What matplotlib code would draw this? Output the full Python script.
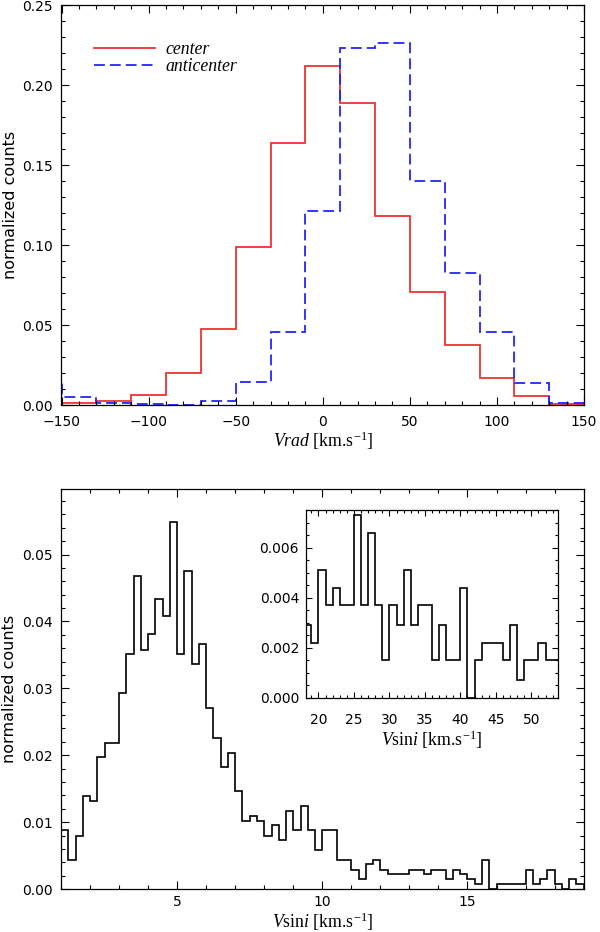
import numpy as np
import matplotlib
matplotlib.use('Agg')
import matplotlib.pyplot as plt
from matplotlib.ticker import MultipleLocator

plt.rcParams['font.family'] = 'DejaVu Sans'
plt.rcParams['mathtext.fontset'] = 'custom'
plt.rcParams['mathtext.rm'] = 'Liberation Serif'
plt.rcParams['mathtext.it'] = 'Liberation Serif:italic'

# --- top panel: radial velocity histograms (bin width 20 km/s)
vrad_edges = np.arange(-150, 151, 20)
center = [0.0015, 0.0025, 0.0062, 0.0202, 0.0475, 0.099, 0.164, 0.212,
          0.1885, 0.118, 0.0708, 0.0375, 0.0167, 0.0056, 0.0006]
anti_edges = np.arange(-170, 151, 20)
anticenter = [0.0156, 0.0052, 0.0015, 0.0006, 0.0, 0.0025, 0.0146, 0.0456,
              0.1215, 0.223, 0.2265, 0.140, 0.0827, 0.0456, 0.0135, 0.0015]

# --- bottom panel: vsini histogram (bin width 0.25 km/s)
vsini_edges = np.arange(1.0, 19.01, 0.25)
vsini = [0.0089, 0.0044, 0.0080, 0.0139, 0.0132, 0.0198, 0.0219, 0.0219,
         0.0293, 0.0351, 0.0468, 0.0358, 0.0381, 0.0433, 0.0408, 0.0548,
         0.0351, 0.0476, 0.0337, 0.0366, 0.0271, 0.0226, 0.0183, 0.0204,
         0.0146, 0.0102, 0.0109, 0.0102, 0.0080, 0.0095, 0.0073, 0.0117,
         0.0089, 0.0124, 0.0089, 0.0059, 0.0089, 0.0089, 0.0044, 0.0044,
         0.0029, 0.0015, 0.0037, 0.0044, 0.0029, 0.0022, 0.0022, 0.0022,
         0.0029, 0.0029, 0.0022, 0.0029, 0.0029, 0.0015, 0.0029, 0.0022,
         0.0015, 0.0007, 0.0044, 0.0, 0.0007, 0.0007, 0.0007, 0.0007,
         0.0029, 0.0007, 0.0015, 0.0029, 0.0007, 0.0, 0.0015, 0.0007]

# --- inset: high vsini tail (bin width 1 km/s)
tail_edges = np.arange(18, 55, 1)
tail = [0.0029, 0.0022, 0.0051, 0.0037, 0.0044, 0.0037, 0.0037, 0.0073,
        0.0037, 0.0066, 0.0037, 0.0015, 0.0037, 0.0029, 0.0051, 0.0029,
        0.0037, 0.0037, 0.0015, 0.0029, 0.0015, 0.0015, 0.0044, 0.0,
        0.0015, 0.0022, 0.0022, 0.0022, 0.0015, 0.0029, 0.0007, 0.0015,
        0.0015, 0.0022, 0.0015, 0.0015]

vrad_ticks = [-150, -100, -50, 0, 50, 100, 150]
vrad_ticklabels = ['\u2212150', '\u2212100', '\u221250', '0', '50', '100', '150']


def idl_axes(ax, size=10, pad=6):
    ax.tick_params(which='both', direction='in', top=True, right=True,
                   labelsize=size, pad=pad)
    ax.tick_params(which='major', length=5.5, width=0.8)
    ax.tick_params(which='minor', length=3, width=0.8)
    for s in ax.spines.values():
        s.set_linewidth(0.9)


fig = plt.figure(figsize=(6, 9.32), dpi=100)

ax1 = fig.add_axes([0.1025, 0.5654, 0.871, 0.4292])
ax1.stairs(center, vrad_edges, color='#ee3333', lw=1.3, label='center')
ax1.stairs(anticenter, anti_edges, color='#2424ff', lw=1.3,
           linestyle=(0, (6, 2.8)), label='anticenter')
ax1.set_xlim(-150, 150)
ax1.set_ylim(0, 0.25)
ax1.set_xticks(vrad_ticks)
ax1.set_xticklabels(vrad_ticklabels)
ax1.xaxis.set_minor_locator(MultipleLocator(10))
ax1.yaxis.set_major_locator(MultipleLocator(0.05))
ax1.yaxis.set_minor_locator(MultipleLocator(0.01))
ax1.yaxis.set_major_formatter(lambda v, p: f'{v:.2f}')
idl_axes(ax1)
ax1.tick_params(axis='x', pad=7)
ax1.set_xlabel(r'$Vrad$ [km.s$^{-1}$]', family='Liberation Serif', fontsize=12.8)
ax1.xaxis.set_label_coords(0.5, -0.09)
ax1.xaxis.label.set_verticalalignment('center')
ax1.set_ylabel('normalized counts', fontsize=11.5)
ax1.yaxis.set_label_coords(-0.097, 0.5)
ax1.yaxis.label.set_verticalalignment('center')
leg = ax1.legend(loc='upper left', bbox_to_anchor=(0.063, 0.91), frameon=False,
                 borderpad=0, borderaxespad=0, handlelength=3.4,
                 handletextpad=0.6, labelspacing=0.0,
                 prop={'family': 'Liberation Serif', 'style': 'italic', 'size': 12.8})

ax2 = fig.add_axes([0.1017, 0.0461, 0.871, 0.4292])
ax2.stairs(vsini, vsini_edges, color='black', lw=1.2)
ax2.set_xlim(1, 19)
ax2.set_ylim(0, 0.0598)
ax2.xaxis.set_major_locator(MultipleLocator(5))
ax2.xaxis.set_minor_locator(MultipleLocator(1))
ax2.yaxis.set_major_locator(MultipleLocator(0.01))
ax2.yaxis.set_minor_locator(MultipleLocator(0.002))
ax2.yaxis.set_major_formatter(lambda v, p: f'{v:.2f}')
idl_axes(ax2)
ax2.tick_params(axis='x', pad=4.5)
ax2.set_xlabel(r'$V$sin$i$ [km.s$^{-1}$]', family='Liberation Serif', fontsize=12.8)
ax2.xaxis.set_label_coords(0.5, -0.082)
ax2.xaxis.label.set_verticalalignment('center')
ax2.set_ylabel('normalized counts', fontsize=11.5)
ax2.yaxis.set_label_coords(-0.098, 0.5)
ax2.yaxis.label.set_verticalalignment('center')

ax3 = fig.add_axes([0.51, 0.2511, 0.42, 0.2017])
ax3.stairs(tail, tail_edges, color='black', lw=1.2)
ax3.set_xlim(18.25, 53.75)
ax3.set_ylim(0, 0.0075)
ax3.xaxis.set_major_locator(MultipleLocator(5))
ax3.xaxis.set_minor_locator(MultipleLocator(1))
ax3.yaxis.set_major_locator(MultipleLocator(0.002))
ax3.yaxis.set_minor_locator(MultipleLocator(0.0005))
ax3.yaxis.set_major_formatter(lambda v, p: f'{v:.3f}')
idl_axes(ax3, pad=5)
ax3.tick_params(axis='x', pad=10.5)
ax3.tick_params(which='major', length=4.5)
ax3.tick_params(which='minor', length=2.2)
ax3.set_xlabel(r'$V$sin$i$ [km.s$^{-1}$]', family='Liberation Serif', fontsize=12.8)
ax3.xaxis.set_label_coords(0.5, -0.225)
ax3.xaxis.label.set_verticalalignment('center')

fig.savefig('out.png', dpi=100)
